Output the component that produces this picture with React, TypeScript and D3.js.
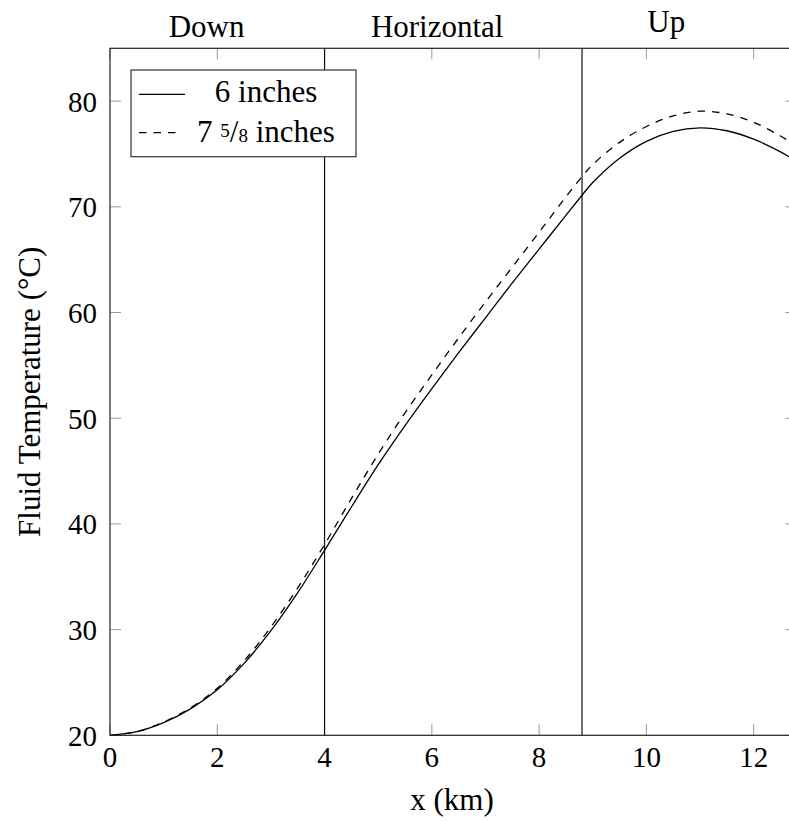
import React from "react";
import * as d3 from "d3";

const xs = [0, 0.5, 1, 1.5, 2, 2.5, 3, 3.5, 4, 4.5, 5, 5.5, 6, 6.5, 7, 7.5, 8, 8.5, 8.8, 9, 9.5, 10, 10.5, 11, 11.5, 12, 12.5, 12.8];
const temp6 = [20.0, 20.35, 21.2, 22.5, 24.3, 26.8, 29.9, 33.5, 37.5, 41.6, 45.6, 49.3, 52.8, 56.2, 59.5, 62.8, 66.0, 69.2, 71.1, 72.3, 74.6, 76.2, 77.15, 77.48, 77.2, 76.4, 75.2, 74.3];
const temp758 = [20.0, 20.35, 21.25, 22.6, 24.45, 27.05, 30.25, 33.95, 38.05, 42.4, 46.6, 50.5, 54.1, 57.6, 61.0, 64.3, 67.6, 70.95, 72.85, 74.0, 76.1, 77.6, 78.6, 79.05, 78.8, 78.0, 76.7, 75.75];
const xTicks = [0, 2, 4, 6, 8, 10, 12];
const yTicks = [20, 30, 40, 50, 60, 70, 80];
const boundaries = [4, 8.8];
const sections = ["Down", "Horizontal", "Up"];
const sectionPos = [1.8, 6.1, 10.37];

const W = 789;
const H = 821;
const left = 110;
const bottom = 735.3;
const top = 48.3;
const kmPx = 53.64;
const xMax = 12.8;
const FONT = "Liberation Serif";

export default function App() {
  const x = d3.scaleLinear().domain([0, xMax]).range([left, left + xMax * kmPx]);
  const y = d3.scaleLinear().domain([20, 85]).range([bottom, top]);
  const line = d3
    .line<number>()
    .x((_, i) => x(xs[i]))
    .y((d) => y(d))
    .curve(d3.curveCatmullRom.alpha(0.5));
  const right = x(xMax);
  const tickLen = 11;
  const axisColor = "#222";
  const tickColor = "#999";
  const ts = { fontFamily: '"Liberation Serif"' };
  const labelSize = 31;

  return (
    <svg width={W} height={H} style={{ position: "fixed", left: 0, top: 0, background: "#fff" }}>
      <rect x={0} y={0} width={W} height={H} fill="#fff" />
      {xTicks.map((t) => (
        <g key={"xt" + t}>
          <line x1={x(t)} x2={x(t)} y1={bottom} y2={bottom - tickLen} stroke={tickColor} strokeWidth={1} />
          <line x1={x(t)} x2={x(t)} y1={top} y2={top + tickLen} stroke={tickColor} strokeWidth={1} />
          <text x={x(t)} y={767} textAnchor="middle" fontSize={29} fill="#000" fontFamily={FONT} style={ts}>
            {t}
          </text>
        </g>
      ))}
      {yTicks.map((t) => (
        <g key={"yt" + t}>
          <line x1={left} x2={left + tickLen} y1={y(t)} y2={y(t)} stroke={tickColor} strokeWidth={1} />
          <line x1={right} x2={right - tickLen} y1={y(t)} y2={y(t)} stroke={tickColor} strokeWidth={1} />
          <text x={97} y={y(t) + 10.5} textAnchor="end" fontSize={29} fill="#000" fontFamily={FONT} style={ts}>
            {t}
          </text>
        </g>
      ))}
      {boundaries.map((b) => (
        <line key={"b" + b} x1={x(b)} x2={x(b)} y1={top} y2={bottom} stroke="#111" strokeWidth={1.2} />
      ))}
      <path d={line(temp6) || ""} fill="none" stroke="#000" strokeWidth={1.3} />
      <path d={line(temp758) || ""} fill="none" stroke="#000" strokeWidth={1.3} strokeDasharray="7.5,7" />
      <rect x={left} y={top} width={right - left} height={bottom - top} fill="none" stroke={axisColor} strokeWidth={1.2} />
      {sections.map((s, i) => (
        <text key={s} x={x(sectionPos[i])} y={i === 2 ? 32 : 37} textAnchor="middle" fontSize={labelSize} fill="#000" fontFamily={FONT} style={ts}>
          {s}
        </text>
      ))}
      <rect x={131} y={70} width={225} height={86.7} fill="#fff" stroke="#333" strokeWidth={1.2} />
      <line x1={139} x2={185} y1={94.3} y2={94.3} stroke="#000" strokeWidth={1.3} />
      <line x1={139} x2={182} y1={132.7} y2={132.7} stroke="#000" strokeWidth={1.3} strokeDasharray="7.5,7" />
      <text x={266} y={101.7} textAnchor="middle" fontSize={labelSize} fill="#000" fontFamily={FONT} style={ts}>
        6 inches
      </text>
      <text x={266} y={141.7} textAnchor="middle" fontSize={labelSize} fill="#000" fontFamily={FONT} style={ts}>
        <tspan>7 </tspan>
        <tspan fontSize={19} dy={-5}>5</tspan>
        <tspan dy={5}>/</tspan>
        <tspan fontSize={19}>8</tspan>
        <tspan> inches</tspan>
      </text>
      <text x={452} y={810} textAnchor="middle" fontSize={labelSize} fill="#000" fontFamily={FONT} style={ts}>
        x (km)
      </text>
      <text
        transform={`translate(40, ${(top + bottom) / 2}) rotate(-90)`}
        textAnchor="middle"
        fontSize={labelSize}
        fill="#000"
        fontFamily={FONT}
        style={ts}
      >
        Fluid Temperature (°C)
      </text>
    </svg>
  );
}
